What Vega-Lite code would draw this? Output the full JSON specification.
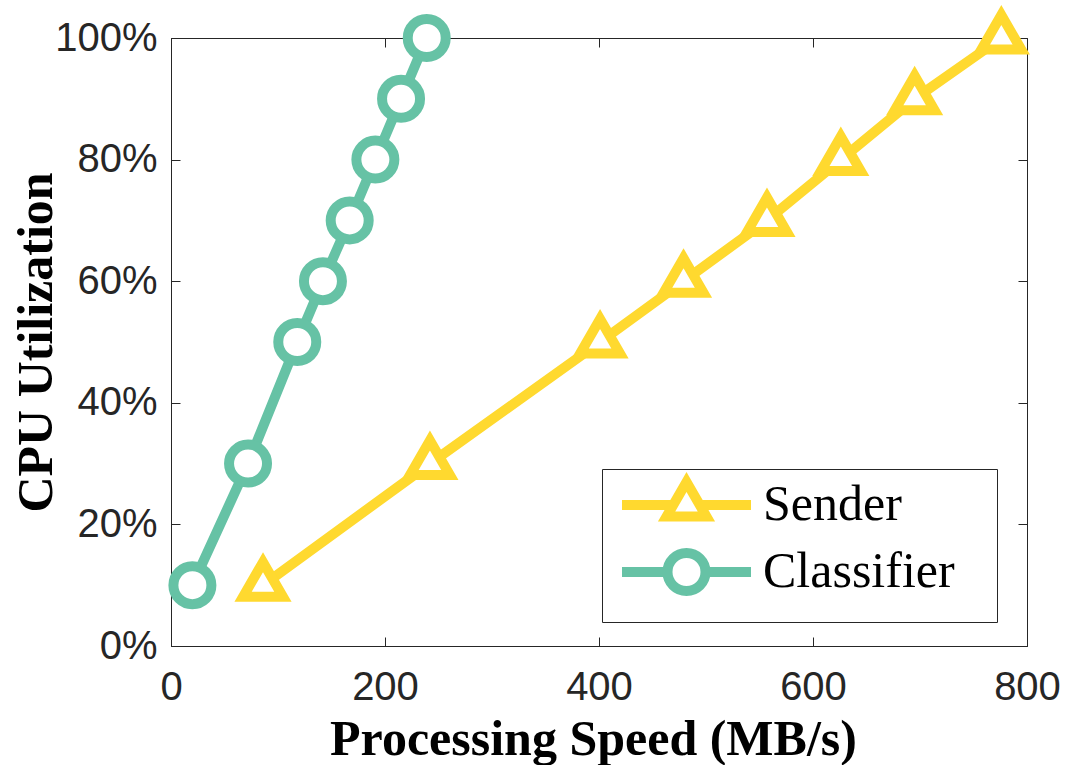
{
  "$schema": "https://vega.github.io/schema/vega-lite/v6.json",
  "width": 856,
  "height": 608,
  "autosize": {"type": "none"},
  "padding": {"left": 171, "top": 38, "right": 59, "bottom": 119},
  "background": "white",
  "config": {
    "view": {"stroke": "#262626", "strokeWidth": 1},
    "axis": {
      "grid": false,
      "domainColor": "#262626",
      "domainWidth": 1,
      "tickColor": "#262626",
      "tickWidth": 1,
      "tickSize": -9,
      "labelFont": "Liberation Sans",
      "labelFontSize": 40,
      "labelColor": "#262626",
      "titleFont": "Liberation Serif",
      "titleFontSize": 50,
      "titleFontWeight": "bold",
      "titleColor": "black"
    },
    "legend": {
      "orient": "none",
      "legendX": 431,
      "legendY": 431,
      "padding": 11,
      "strokeColor": "#262626",
      "fillColor": "white",
      "symbolSize": 1600,
      "symbolStrokeWidth": 10,
      "symbolFillColor": "white",
      "symbolOpacity": 1,
      "symbolOffset": 48.5,
      "labelOffset": 51.5,
      "labelFont": "Liberation Serif",
      "labelFontSize": 50,
      "labelColor": "black",
      "labelLimit": 500,
      "rowPadding": -4,
      "titleOrient": "right",
      "titleFontSize": 1,
      "titlePadding": 31,
      "titleColor": "white"
    }
  },
  "data": {
    "values": [
      {"series": "Sender", "speed": 86, "cpu": 10},
      {"series": "Sender", "speed": 242, "cpu": 30},
      {"series": "Sender", "speed": 401, "cpu": 50},
      {"series": "Sender", "speed": 479, "cpu": 60},
      {"series": "Sender", "speed": 557, "cpu": 70},
      {"series": "Sender", "speed": 626, "cpu": 80},
      {"series": "Sender", "speed": 695, "cpu": 90},
      {"series": "Sender", "speed": 776, "cpu": 100},
      {"series": "Classifier", "speed": 20, "cpu": 10},
      {"series": "Classifier", "speed": 72, "cpu": 30},
      {"series": "Classifier", "speed": 118, "cpu": 50},
      {"series": "Classifier", "speed": 142, "cpu": 60},
      {"series": "Classifier", "speed": 167, "cpu": 70},
      {"series": "Classifier", "speed": 191, "cpu": 80},
      {"series": "Classifier", "speed": 215, "cpu": 90},
      {"series": "Classifier", "speed": 239, "cpu": 100}
    ]
  },
  "layer": [
    {
      "mark": {"type": "line", "strokeWidth": 10},
      "encoding": {
        "x": {
          "field": "speed", "type": "quantitative",
          "scale": {"domain": [0, 800], "nice": false, "zero": false},
          "axis": {"orient": "bottom", "title": "Processing Speed (MB/s)", "values": [0, 200, 400, 600, 800], "labelPadding": 30, "titlePadding": 47, "titleBaseline": "alphabetic", "titleX": 422, "titleAlign": "center", "labelFlush": false, "labelOverlap": false}
        },
        "y": {
          "field": "cpu", "type": "quantitative",
          "scale": {"domain": [0, 100], "nice": false, "zero": false},
          "axis": {"orient": "left", "title": "CPU Utilization", "values": [0, 20, 40, 60, 80, 100], "labelExpr": "datum.value + '%'", "labelPadding": 23, "titlePadding": 3, "titleBaseline": "alphabetic", "labelFlush": false, "labelOverlap": false}
        },
        "color": {
          "field": "series", "type": "nominal",
          "scale": {"domain": ["Sender", "Classifier"], "range": ["#FFD92F", "#66C2A5"]},
          "legend": null
        }
      }
    },
    {
      "mark": {"type": "point", "filled": false, "fill": "white", "strokeWidth": 10, "opacity": 1, "size": 1444},
      "encoding": {
        "x": {
          "field": "speed", "type": "quantitative",
          "axis": {"orient": "top", "labels": false, "title": null, "values": [0, 200, 400, 600, 800], "domain": false}
        },
        "y": {
          "field": "cpu", "type": "quantitative",
          "axis": {"orient": "right", "labels": false, "title": null, "values": [0, 20, 40, 60, 80, 100], "domain": false}
        },
        "color": {
          "field": "series", "type": "nominal",
          "scale": {"domain": ["Sender", "Classifier"], "range": ["#FFD92F", "#66C2A5"]},
          "legend": null
        },
        "shape": {
          "field": "series", "type": "nominal",
          "scale": {"domain": ["Sender", "Classifier"], "range": ["M0,-1.21L-1.048,0.605L1.048,0.605Z", "circle"]},
          "legend": null
        }
      }
    },
    {
      "mark": {"type": "point", "filled": false, "fill": "white", "strokeWidth": 10, "opacity": 0, "size": 1600},
      "encoding": {
        "x": {"field": "speed", "type": "quantitative", "axis": null},
        "y": {"field": "cpu", "type": "quantitative", "axis": null},
        "color": {
          "field": "series", "type": "nominal",
          "scale": {"domain": ["Sender", "Classifier"], "range": ["#FFD92F", "#66C2A5"]},
          "legend": {"title": "\u00a0"}
        },
        "shape": {
          "field": "series", "type": "nominal",
          "scale": {"domain": ["Sender", "Classifier"], "range": ["M-3.225,0L-0.664,0M0.664,0L3.225,0M0,-1.15L-0.996,0.575L0.996,0.575Z", "M-3.225,0L-0.95,0M0.95,0L3.225,0M-0.95,0C-0.95,-0.5247,-0.5247,-0.95,0,-0.95C0.5247,-0.95,0.95,-0.5247,0.95,0C0.95,0.5247,0.5247,0.95,0,0.95C-0.5247,0.95,-0.95,0.5247,-0.95,0Z"]},
          "legend": {"title": "\u00a0"}
        }
      }
    }
  ],
  "resolve": {
    "axis": {"x": "independent", "y": "independent"},
    "scale": {"color": "independent", "shape": "independent"}
  }
}
